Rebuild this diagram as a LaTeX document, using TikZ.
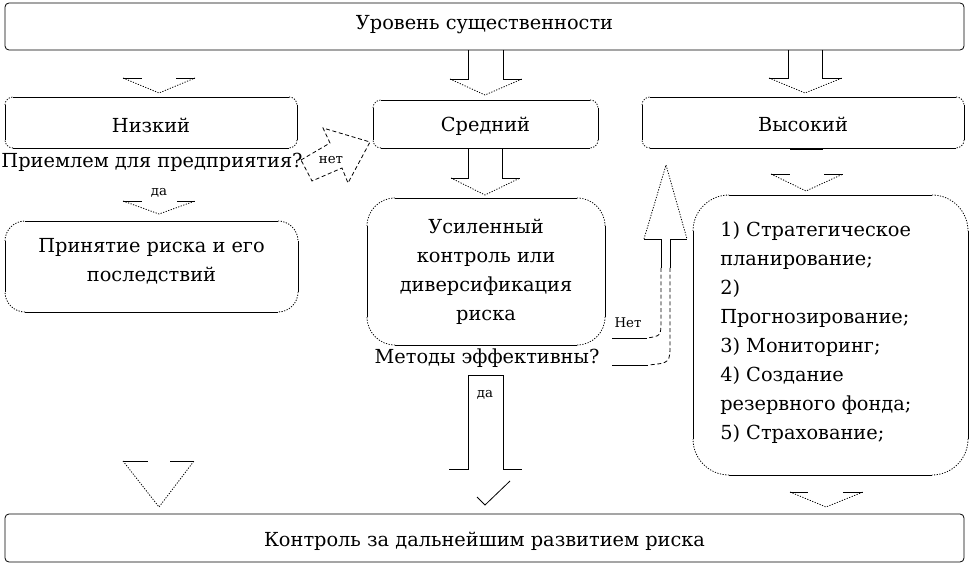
\documentclass[tikz,border=0pt]{standalone}
\usepackage{fontspec}
\setmainfont{DejaVu Serif}
\usetikzlibrary{calc}
\tikzset{
  txt/.style={inner sep=0pt, font=\fontsize{14.5}{21.75}\selectfont},
  small/.style={inner sep=0pt, font=\fontsize{10}{12}\selectfont},
  boxshape/.style={draw=none, inner sep=0pt, outer sep=0pt},
  ln/.style={line width=0.6pt},
  dots/.style={line width=0.6pt, dash pattern=on 0.9pt off 1.1pt},
  dsh/.style={line width=0.6pt, dash pattern=on 3pt off 2pt},
}
\newcommand\rbox[2]{%
  \draw[ln] ([xshift=#2]#1.north west) -- ([xshift=-#2]#1.north east)
    ([yshift=-#2]#1.north east) -- ([yshift=#2]#1.south east)
    ([xshift=-#2]#1.south east) -- ([xshift=#2]#1.south west)
    ([yshift=#2]#1.south west) -- ([yshift=-#2]#1.north west);
  \draw[dots,rounded corners=#2] ([xshift=-#2]#1.north east) -- (#1.north east) -- ([yshift=-#2]#1.north east);
  \draw[dots,rounded corners=#2] ([yshift=#2]#1.south east) -- (#1.south east) -- ([xshift=-#2]#1.south east);
  \draw[dots,rounded corners=#2] ([xshift=#2]#1.south west) -- (#1.south west) -- ([yshift=#2]#1.south west);
  \draw[dots,rounded corners=#2] ([yshift=-#2]#1.north west) -- (#1.north west) -- ([xshift=#2]#1.north west);
}
\begin{document}
\begin{tikzpicture}[x=0.75pt,y=-0.75pt]
\useasboundingbox (0,0) rectangle (969,566);

% boxes
\node[boxshape, draw, ln, rounded corners=3pt, minimum width=719.25pt, minimum height=35.25pt] (top) at (484.5,26.5) {};
\node[txt] (topt) at (484.5,25) {Уровень существенности};

\node[boxshape, minimum width=219pt, minimum height=38.25pt] (low) at (151,122.5) {};
\rbox{low}{6pt}
\node[txt] (lowt) at (151,125) {Низкий};

\node[boxshape, minimum width=168.75pt, minimum height=36pt] (mid) at (485.5,124) {};
\rbox{mid}{6pt}
\node[txt] (midt) at (485.5,126) {Средний};

\node[boxshape, minimum width=241.5pt, minimum height=38.25pt] (high) at (803,122.5) {};
\rbox{high}{6pt}
\node[txt] (hight) at (803,124) {Высокий};

\node[txt] (q1) at (152,162) {Приемлем для предприятия?};

\node[boxshape, minimum width=219.75pt, minimum height=68.25pt] (acc) at (151.5,266.5) {};
\rbox{acc}{15pt}
\node[txt, align=center] (acct) at (151.5,261.5) {Принятие риска и его\\последствий};

\node[boxshape, minimum width=178.5pt, minimum height=110.25pt] (ctl) at (486,271.5) {};
\rbox{ctl}{21pt}
\node[txt, align=center] (ctlt) at (486,272) {Усиленный\\контроль или\\диверсификация\\риска};

\node[txt] (q2) at (487,358) {Методы эффективны?};

\node[boxshape, minimum width=206.25pt, minimum height=210pt] (meas) at (830.5,335) {};
\rbox{meas}{27pt}
\node[txt, align=left, anchor=west] (meast) at (720,333) {1) Стратегическое\\планирование;\\2)\\Прогнозирование;\\3) Мониторинг;\\4) Создание\\резервного фонда;\\5) Страхование;};

\node[boxshape, draw, ln, rounded corners=3pt, minimum width=719.25pt, minimum height=36pt] (bot) at (484.5,538) {};
\node[txt] (bott) at (484.5,541) {Контроль за дальнейшим развитием риска};

% small labels
\node[small] (no1) at (331,160) {нет};
\node[small] (yes1) at (159,193) {да};
\node[small] (no2) at (628,323) {Нет};
\node[small] (yes2) at (485,395) {да};

% top -> low
\draw[ln] (123,78) -- (142,78) (176,78) -- (195,78);
\draw[dots] (123,78) -- (159,93) -- (195,78);
% top -> mid
\draw[ln] (450,79) -- (468,79) -- (468,50) (503,50) -- (503,79) -- (522,79);
\draw[dots] (450,79) -- (485,95) -- (522,79);
% top -> high
\draw[ln] (769,78) -- (788,78) -- (788,50) (822,50) -- (822,78) -- (842,78);
\draw[dots] (769,78) -- (805,93) -- (842,78);

% mid -> ctl
\draw[ln] (451,178) -- (468,178) -- (468,149) (502,149) -- (502,178) -- (520,178);
\draw[dots] (451,178) -- (485,195) -- (520,178);

% high -> meas
\draw[line width=1.4pt] (790,149) -- (823,149);
\draw[ln] (771,174) -- (790,174) (824,174) -- (843,174);
\draw[dots] (771,174) -- (806,191) -- (843,174);

% q1 yes -> acc
\draw[ln] (123,201) -- (142,201) (177,201) -- (195,201);
\draw[dots] (123,201) -- (159,214) -- (195,201);

% q1 no -> mid
\draw[dsh] (301,160) -- (330,143) -- (323,128) -- (370,142) -- (348,183) -- (342,168) -- (312,181) -- cycle;

% q2 no -> mid (curved block arrow)
\draw[ln] (644,239) -- (661,239) -- (661,268) (670,268) -- (670,239) -- (687,239);
\draw[dots] (644,239) -- (666,165) -- (687,239);
\draw[dsh] (661,268) -- (661,320) .. controls (661,336) .. (647,338);
\draw[ln] (647,338) -- (612,338);
\draw[dsh] (670,268) -- (670,343) .. controls (670,363) .. (648,365);
\draw[ln] (648,365) -- (612,365);

% q2 yes -> bot
\draw[ln] (449,469) -- (468,469) -- (468,375) -- (503,375) -- (503,469) -- (522,469);
\draw[ln] (477,497) -- (485,505) -- (510,481);

% acc -> bot
\draw[ln] (123,461) -- (148,461) (170,461) -- (194,461);
\draw[dots] (123,461) -- (159,507) -- (194,461);

% meas -> bot
\draw[ln] (790,492) -- (808,492) (843,492) -- (863,492);
\draw[dots] (790,492) -- (826,507) -- (863,492);
\end{tikzpicture}
\end{document}
